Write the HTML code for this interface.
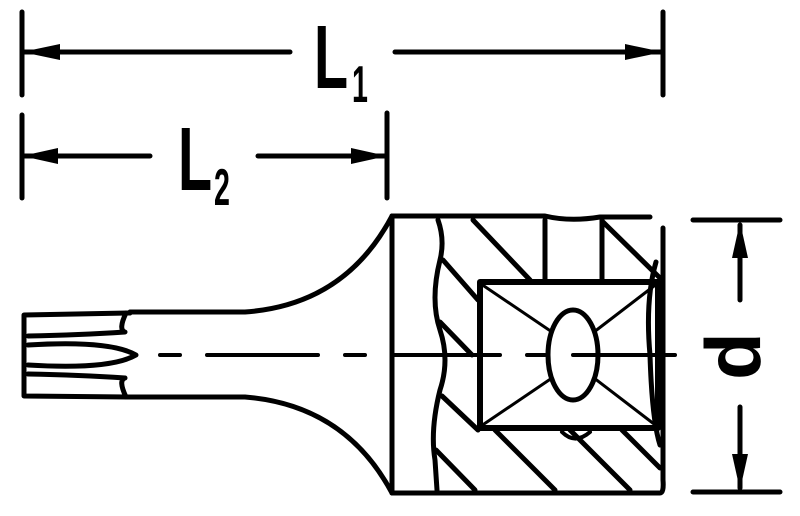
<!DOCTYPE html>
<html><head><style>html,body{margin:0;padding:0;background:#fff}svg{display:block}</style></head>
<body>
<svg width="800" height="516" viewBox="0 0 800 516" xmlns="http://www.w3.org/2000/svg">
<g stroke="#000" stroke-width="5" fill="none" stroke-linecap="round" stroke-linejoin="round">
<!-- L1 -->
<line x1="22" y1="12" x2="22" y2="95"/>
<line x1="663" y1="12" x2="663" y2="95"/>
<line x1="22" y1="52" x2="290" y2="52"/>
<line x1="395" y1="52" x2="663" y2="52"/>
<!-- L2 -->
<line x1="22" y1="115" x2="22" y2="198"/>
<line x1="387" y1="113" x2="387" y2="198"/>
<line x1="22" y1="156" x2="150" y2="156"/>
<line x1="258" y1="156" x2="387" y2="156"/>
<!-- d -->
<line x1="693" y1="220" x2="780" y2="220"/>
<line x1="693" y1="492" x2="780" y2="492"/>
<line x1="740" y1="225" x2="740" y2="300"/>
<line x1="740" y1="407" x2="740" y2="488"/>
<!-- bit -->
<path d="M130,313 L24,315 L24,396 L130,397"/>
<path d="M126,313 Q118,330 125,332 Q80,335 28,336"/>
<path d="M126,397 Q118,380 125,378 Q80,375 28,374"/>
<path d="M28,345 Q110,340 136,355 Q110,370 28,365"/>
<!-- shank -->
<path d="M130,312 L245,312 Q345,305 392,216"/>
<path d="M130,397 L245,397 Q345,405 392,493"/>
<line x1="392" y1="216" x2="392" y2="493"/>
<!-- socket -->
<path d="M392,216 L545,216 Q570,222 600,217 L650,217"/>
<path d="M392,493 L660,493 Q664,493 663,480 L663,228"/>
<path d="M438,220 Q445,240 440,260 Q430,300 440,330 Q450,360 440,390 Q430,430 435,460 L437,490"/>
<path d="M656,262 Q645,300 650,355 Q652,420 660,445"/>
<line x1="545" y1="220" x2="545" y2="280"/>
<line x1="602" y1="220" x2="602" y2="280"/>
<!-- hatching -->
<line x1="473" y1="220" x2="530" y2="280"/>
<line x1="603" y1="222" x2="660" y2="278"/>
<line x1="443" y1="260" x2="478" y2="300"/>
<line x1="440" y1="322" x2="472" y2="355"/>
<line x1="442" y1="396" x2="478" y2="430"/>
<line x1="436" y1="450" x2="475" y2="490"/>
<line x1="495" y1="430" x2="555" y2="490"/>
<line x1="570" y1="430" x2="630" y2="490"/>
<line x1="622" y1="430" x2="660" y2="468"/>
<!-- inner square -->
<rect x="480" y="282" width="178" height="146" stroke-width="6"/>
<line x1="484" y1="286" x2="552" y2="332" stroke-width="3"/>
<line x1="654" y1="286" x2="594" y2="332" stroke-width="3"/>
<line x1="484" y1="424" x2="552" y2="378" stroke-width="3"/>
<line x1="654" y1="424" x2="594" y2="378" stroke-width="3"/>
<ellipse cx="573" cy="355" rx="25" ry="45"/>
<path d="M562,432 Q575,445 590,432" stroke-width="4"/>
<!-- centerline -->
<g stroke-width="4">
<line x1="160" y1="355" x2="180" y2="355"/>
<line x1="207" y1="355" x2="318" y2="355"/>
<line x1="345" y1="355" x2="365" y2="355"/>
<line x1="392" y1="355" x2="500" y2="355"/>
<line x1="527" y1="355" x2="545" y2="355"/>
<line x1="573" y1="355" x2="675" y2="355"/>
</g>
</g>
<g fill="#000">
<polygon points="22,52 60,44 60,60"/>
<polygon points="663,52 625,44 625,60"/>
<polygon points="22,156 58,148 58,164"/>
<polygon points="387,156 351,148 351,164"/>
<polygon points="740,222 732,258 748,258"/>
<polygon points="740,490 732,454 748,454"/>
</g>
<g font-family="'Liberation Sans', sans-serif" font-weight="bold" fill="#000">
<text transform="translate(314,88) scale(0.62,1)" font-size="90">L</text>
<text transform="translate(352,102) scale(0.55,1)" font-size="52">1</text>
<text transform="translate(178,190) scale(0.62,1)" font-size="90">L</text>
<text transform="translate(214,205) scale(0.55,1)" font-size="52">2</text>
<text transform="translate(760,380) rotate(-90) scale(1,1)" font-size="78">d</text>
</g>
</svg>
</body></html>
